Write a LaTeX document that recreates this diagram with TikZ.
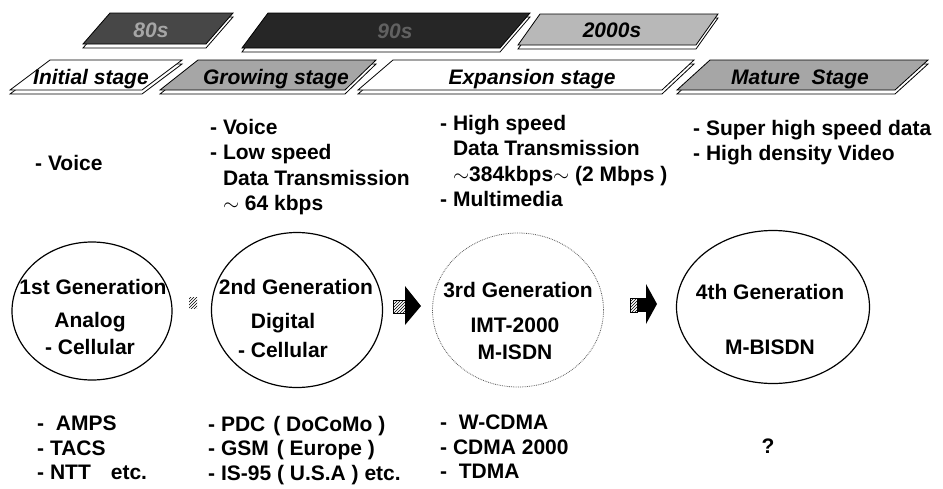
\documentclass[tikz,border=0pt]{standalone}
\usepackage{fontspec}
\setmainfont{Liberation Sans}
\usetikzlibrary{shapes.geometric, patterns, positioning}

\tikzset{
  gen/.style={draw, ellipse, line width=1.2pt, inner sep=0pt},
  genfaint/.style={gen, draw=black!65, line width=0.8pt, densely dotted},
  gentext/.style={inner sep=0pt, font=\fontsize{21}{25}\selectfont\bfseries},
  txt/.style={anchor=north west, align=left, inner sep=0pt,
    font=\fontsize{21}{25.5}\selectfont\bfseries},
  systxt/.style={txt, font=\fontsize{21}{24.5}\selectfont\bfseries},
  stagelbl/.style={inner sep=0pt, font=\fontsize{21}{25}\selectfont\bfseries\itshape},
  hatch/.style={pattern=north east lines, pattern color=black},
}

% slab: fill, BLx, TLx, TRx, BRx, ytop, ybot
\newcommand{\slab}[7]{%
  \filldraw[fill=white, line width=0.8pt, yshift=-4pt] (#2,#7) -- (#3,#6) -- (#4,#6) -- (#5,#7) -- cycle;
  \filldraw[fill=#1, line width=0.8pt] (#2,#7) -- (#3,#6) -- (#4,#6) -- (#5,#7) -- cycle;
}

\begin{document}
\begin{tikzpicture}[x=1pt, y=-1pt]
  \useasboundingbox (0,0) rectangle (943,488);

  % decades
  \slab{black!72}{83}{110}{233}{206}{13}{44}
  \slab{black!85}{242}{268}{530}{500}{13}{48}
  \slab{black!28}{518}{540}{718}{696}{14}{45}
  \node[stagelbl, text=black!35] (d80) at (151,30) {80s};
  \node[stagelbl, text=black!62] (d90) at (395,31) {90s};
  \node[stagelbl] (d2000) at (612,30) {2000s};

  % stages
  \slab{white}{10}{50}{182}{142}{60}{90}
  \slab{black!35}{160}{198}{376}{345}{60}{90}
  \slab{white}{358}{393}{694}{662}{60}{90}
  \slab{black!35}{677}{710}{928}{895}{60}{90}
  \node[stagelbl] (initial) at (91,79) {Initial stage};
  \node[stagelbl] (growing) at (276,79) {Growing stage};
  \node[stagelbl] (expansion) at (532,79) {Expansion stage};
  \node[stagelbl] (mature) at (800,79) {Mature\ \ Stage};

  % services
  \node[txt] (serv1) at (35,155) {- Voice};
  \node[txt] (serv2) at (210,119) {- Voice\\- Low speed\\\hphantom{- }Data Transmission\\\hphantom{- }$\sim$ 64 kbps};
  \node[txt] (serv3) at (440,115) {- High speed\\\hphantom{- }Data Transmission\\\hphantom{- }$\sim$384kbps$\sim$ (2 Mbps )\\- Multimedia};
  \node[txt] (serv4) at (693,120) {- Super high speed data\\- High density Video};

  % generations
  \node[gen, minimum width=160pt, minimum height=138pt] (gen1) at (92,311) {};
  \node[gen, minimum width=171pt, minimum height=155pt] (gen2) at (297,310) {};
  \node[genfaint, minimum width=171pt, minimum height=154pt] (gen3) at (518,310) {};
  \node[gen, minimum width=193pt, minimum height=153pt] (gen4) at (773,307) {};

  \node[gentext] (gen1a) at (93,287) {1st Generation};
  \node[gentext] (gen1b) at (90,322) {Analog};
  \node[gentext] (gen1c) at (90,347) {- Cellular};
  \node[gentext] (gen2a) at (296,287) {2nd Generation};
  \node[gentext] (gen2b) at (283,323) {Digital};
  \node[gentext] (gen2c) at (283,350) {- Cellular};
  \node[gentext] (gen3a) at (518,290) {3rd Generation};
  \node[gentext] (gen3b) at (515,325) {IMT-2000};
  \node[gentext] (gen3c) at (515,352) {M-ISDN};
  \node[gentext] (gen4a) at (770,292) {4th Generation};
  \node[gentext] (gen4b) at (770,347) {M-BISDN};

  % arrows between generations
  \fill[hatch] (189,297) rectangle (197,308);
  \filldraw[hatch, draw=black, line width=0.4pt] (393,300) rectangle (405,313);
  \fill (405,286) -- (421,306) -- (405,325) -- cycle;
  \filldraw[hatch, draw=black, line width=0.4pt] (630,298) rectangle (637,312);
  \fill (637,298) rectangle (646,312);
  \fill (646,284) -- (657,304) -- (646,324) -- cycle;

  % systems
  \node[systxt] (sys1) at (37,416) {-~~AMPS\\- TACS\\- NTT\hspace{20pt}etc.};
  \node[systxt] (sys2) at (208,416) {- PDC\hspace{8pt}( DoCoMo )\\- GSM\hspace{8pt}( Europe )\\- IS-95 ( U.S.A ) etc.};
  \node[systxt] (sys3) at (440,415) {-~~W-CDMA\\- CDMA 2000\\-~~TDMA};
  \node[gentext] (sys4) at (768,446) {?};
\end{tikzpicture}
\end{document}
